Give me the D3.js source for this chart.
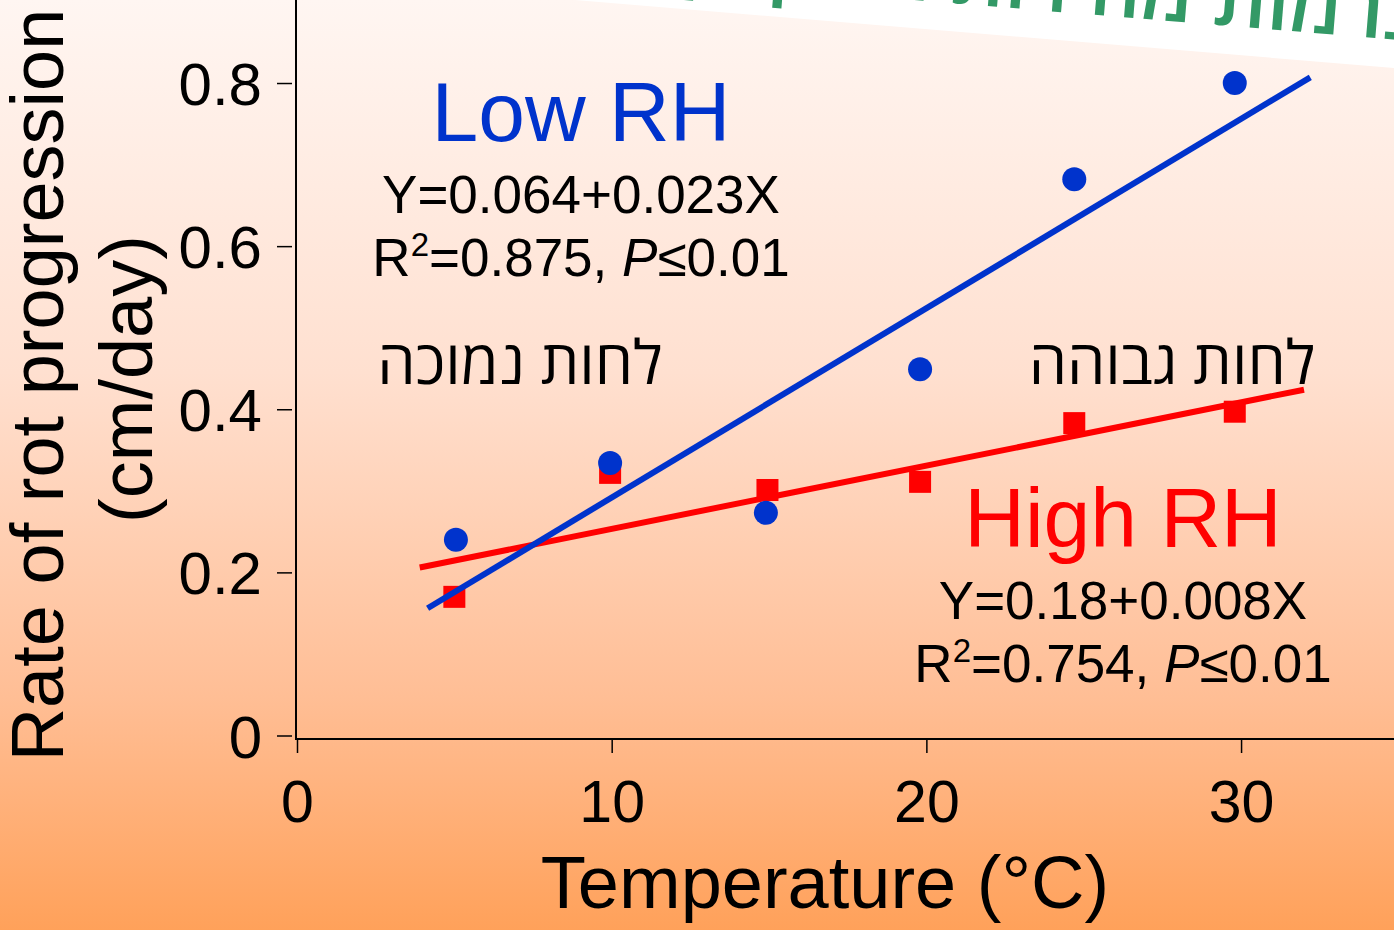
<!DOCTYPE html>
<html>
<head>
<meta charset="utf-8">
<script src="https://cdn.jsdelivr.net/npm/d3@7"></script>
<style>
  html, body { margin: 0; padding: 0; overflow: hidden; background: #fff; }
  svg { display: block; }
  text { font-family: "Liberation Sans", Arial, Helvetica, sans-serif; }
  .heb { font-family: "Open Sans", "DejaVu Sans", sans-serif; }
</style>
</head>
<body>
<svg id="chart" width="1394" height="930"></svg>
<script>
// ---- data ----
const temperatures = [5.05, 9.95, 14.9, 19.8, 24.7, 29.8];
const lowRH  = [0.240, 0.334, 0.273, 0.449, 0.682, 0.800];
const highTemps = [5.0, 9.95, 14.95, 19.8, 24.7, 29.8];
const highRH = [0.170, 0.322, 0.301, 0.311, 0.383, 0.397];
const lowFitX = [4.15, 32.2];
const lowFitY = [0.156, 0.807];
const highFitX = [3.9, 32.0];
const highFitY = [0.206, 0.424];
const xTicks = [0, 10, 20, 30];
const yTicks = [0, 0.2, 0.4, 0.6, 0.8];
const xTitle = "Temperature (°C)";
const yTitle1 = "Rate of rot progression";
const yTitle2 = "(cm/day)";
const bannerText = "ברמות מהירות הריקבון השונות";

const W = 1394, H = 930;
const svg = d3.select("#chart");

// background gradient
const defs = svg.append("defs");
const grad = defs.append("linearGradient").attr("id", "bg").attr("x1", 0).attr("y1", 0).attr("x2", 0).attr("y2", 1);
[[0, "#FFF6F2"], [0.4, "#FFE0D0"], [0.75, "#FFBE95"], [1, "#FFA15A"]].forEach(([o, c]) =>
  grad.append("stop").attr("offset", o).attr("stop-color", c));
svg.append("rect").attr("width", W).attr("height", H).attr("fill", "url(#bg)");

// scales
const x = d3.scaleLinear().domain([0, 34.86]).range([297, 1394]);
const y = d3.scaleLinear().domain([0, 0.9]).range([735.5, 1.46]);

// axes
const yAxis = d3.axisLeft(y).tickValues(yTicks).tickSize(15).tickSizeOuter(0)
  .tickFormat(d => d === 0 ? "0" : d3.format(".1f")(d));
const gy = svg.append("g").attr("transform", "translate(292,0)").call(yAxis);
gy.select(".domain").remove();
gy.selectAll(".tick line").attr("stroke", "#000").attr("stroke-width", 1.5);
gy.selectAll(".tick text").attr("x", -30).attr("dy", "0.36em")
  .attr("font-size", 60).attr("fill", "#000")
  .style("font-family", "'Liberation Sans', Arial, sans-serif");

const xAxis = d3.axisBottom(x).tickValues(xTicks).tickSize(13).tickSizeOuter(0).tickFormat(d3.format("d"));
const gx = svg.append("g").attr("transform", "translate(0,740)").call(xAxis);
gx.select(".domain").remove();
gx.selectAll(".tick line").attr("stroke", "#000").attr("stroke-width", 1.5);
gx.selectAll(".tick text").attr("y", 82).attr("dy", 0)
  .attr("font-size", 59).attr("fill", "#000")
  .style("font-family", "'Liberation Sans', Arial, sans-serif");

// axis lines
svg.append("line").attr("x1", x(0) - 1).attr("x2", x(0) - 1).attr("y1", 0).attr("y2", 740)
  .attr("stroke", "#000").attr("stroke-width", 2);
svg.append("line").attr("x1", x(0) - 2).attr("x2", W).attr("y1", 739).attr("y2", 739)
  .attr("stroke", "#000").attr("stroke-width", 2);

// axis titles
svg.append("text").attr("x", 825).attr("y", 908).attr("text-anchor", "middle")
  .attr("font-size", 74).attr("fill", "#000").text(xTitle);
svg.append("text").attr("transform", "translate(63,385) rotate(-90)").attr("text-anchor", "middle")
  .attr("font-size", 74).attr("fill", "#000").text(yTitle1);
svg.append("text").attr("transform", "translate(152,379) rotate(-90)").attr("text-anchor", "middle")
  .attr("font-size", 74).attr("fill", "#000").text(yTitle2);

// regression lines
const line = d3.line().x(d => x(d[0])).y(d => y(d[1]));
svg.append("path").datum(d3.zip(highFitX, highFitY)).attr("d", line)
  .attr("stroke", "#FF0000").attr("stroke-width", 6).attr("fill", "none");
// red squares
const sq = 22;
svg.selectAll("rect.hi").data(d3.zip(highTemps, highRH)).enter().append("rect")
  .attr("class", "hi")
  .attr("x", d => x(d[0]) - sq / 2).attr("y", d => y(d[1]) - sq / 2)
  .attr("width", sq).attr("height", sq).attr("fill", "#FF0000");
svg.append("path").datum(d3.zip(lowFitX, lowFitY)).attr("d", line)
  .attr("stroke", "#0033CC").attr("stroke-width", 6).attr("fill", "none");
// blue circles
svg.selectAll("circle.lo").data(d3.zip(temperatures, lowRH)).enter().append("circle")
  .attr("class", "lo")
  .attr("cx", d => x(d[0])).attr("cy", d => y(d[1])).attr("r", 12).attr("fill", "#0033CC");

// annotations
function stats(cx, by, eq, r2) {
  svg.append("text").attr("x", cx).attr("y", by).attr("text-anchor", "middle")
    .attr("font-size", 53).attr("fill", "#000").text(eq);
  const t = svg.append("text").attr("x", cx).attr("y", by + 63).attr("text-anchor", "middle")
    .attr("font-size", 53).attr("fill", "#000");
  t.append("tspan").text("R");
  t.append("tspan").attr("font-size", 33).attr("dy", -20).text("2");
  t.append("tspan").attr("dy", 20).text("=" + r2 + ", ");
  t.append("tspan").attr("font-style", "italic").text("P");
  t.append("tspan").text("≤0.01");
}
svg.append("text").attr("x", 581).attr("y", 141).attr("text-anchor", "middle")
  .attr("font-size", 84).attr("fill", "#0033CC").text("Low RH");
stats(581, 213, "Y=0.064+0.023X", "0.875");
svg.append("text").attr("x", 1123).attr("y", 547).attr("text-anchor", "middle")
  .attr("font-size", 84).attr("fill", "#FF0000").text("High RH");
stats(1123, 619, "Y=0.18+0.008X", "0.754");

svg.append("text").attr("class", "heb").attr("x", 520).attr("y", 384).attr("text-anchor", "middle")
  .attr("font-size", 61).attr("font-weight", 500).attr("fill", "#000").text("לחות נמוכה");
svg.append("text").attr("class", "heb").attr("x", 1172).attr("y", 384).attr("text-anchor", "middle")
  .attr("font-size", 61).attr("font-weight", 500).attr("fill", "#000").text("לחות גבוהה");

// white banner on top
svg.append("polygon").attr("points", "575,0 1394,0 1394,68").attr("fill", "#FFFFFF");
svg.append("text").attr("class", "heb")
  .attr("transform", "translate(1425,42) rotate(4.7)")
  .attr("text-anchor", "end")
  .attr("font-size", 80).attr("font-weight", 600).attr("fill", "#339966").text(bannerText);
</script>
</body>
</html>
